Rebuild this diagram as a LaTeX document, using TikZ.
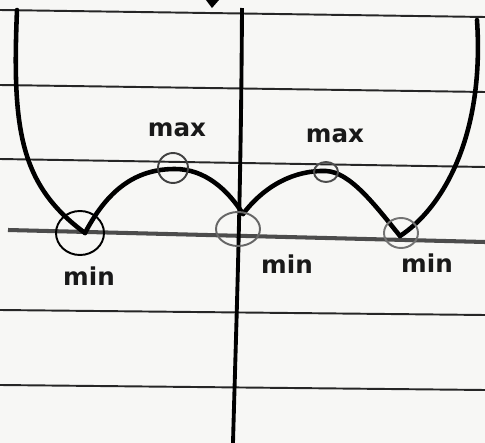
\documentclass[tikz,border=0pt]{standalone}
\usepackage{fontspec}
\setmainfont{DejaVu Sans}
\usetikzlibrary{positioning}

\definecolor{paper}{RGB}{247,247,245}

\begin{document}
\begin{tikzpicture}[x=0.02cm, y=-0.02cm,
    rule/.style={line width=1.1pt, draw=black!85},
    curve/.style={line width=2.6pt, line cap=round, line join=round},
    ring/.style={line width=1.1pt},
    lab/.style={font=\fontsize{14}{14}\selectfont\bfseries, text=black!90,
                text height=1ex, text depth=0pt, inner sep=0pt}]
  % --- sheet of ruled paper ---
  \fill[paper] (0,0) rectangle (485,443);
  \useasboundingbox (0,0) rectangle (485,443);

  % --- ruled lines (left y / right y) ---
  \foreach \yl/\yr in {10/17, 85/92, 159/167, 310/315, 385/390} {
    \draw[rule] (0,\yl) -- (485,\yr);
  }

  % --- axes ---
  \draw[line width=2.3pt, draw=black!70] (8,230) -- (485,242);
  \draw[line width=2.2pt] (242,8) .. controls (241,200) and (236,330) .. (233,443);
  \fill (206,0) -- (219,0) -- (212,8) -- cycle;

  % --- the graph, in four strokes ---
  \draw[curve] (17,10) .. controls (12,130) and (20,185) .. (85,233);
  \draw[curve] (85,233) .. controls (110,185) and (140,169) .. (175,169)
                        .. controls (205,169) and (228,190) .. (243,214);
  \draw[curve] (243,214) .. controls (265,185) and (295,170) .. (326,171)
                         .. controls (350,172) and (375,205) .. (400,236);
  \draw[curve] (400,236) .. controls (440,210) and (485,140) .. (477,20);

  % --- circled turning points ---
  \draw[ring, black]    (80,233) ellipse (24 and 22);
  \draw[ring, black!75] (173,168) circle (15);
  \draw[ring, black!60] (238,229) ellipse (22 and 17);
  \draw[ring, black!70] (326,172) ellipse (12 and 10);
  \draw[ring, black!55] (401,233) ellipse (17 and 15);

  % --- labels ---
  \node[lab] (maxL) at (177,132) {max};
  \node[lab] (maxR) at (335,138) {max};
  \node[lab] (minL) at (89,281)  {min};
  \node[lab] (minO) at (287,269) {min};
  \node[lab] (minR) at (427,268) {min};
\end{tikzpicture}
\end{document}
